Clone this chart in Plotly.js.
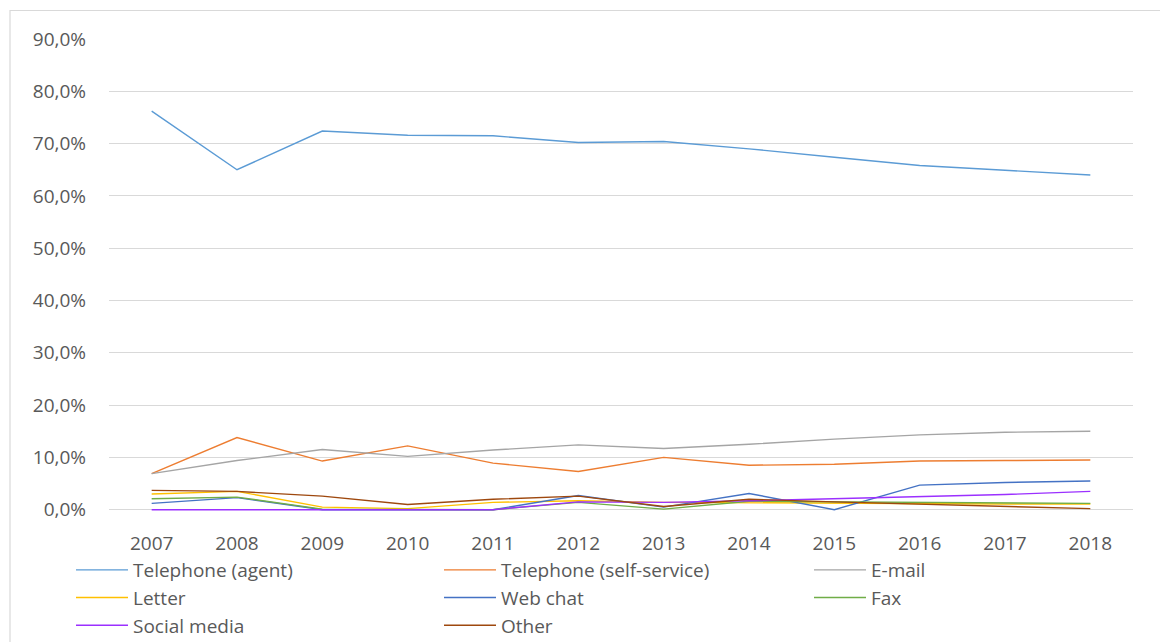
<!DOCTYPE html>
<html><head><meta charset="utf-8">
<script src="https://cdn.plot.ly/plotly-3.0.1.min.js"></script>
<style>html,body{margin:0;padding:0;background:#fff;}#chart{width:1160px;height:642px;}</style>
</head><body><div id="chart"></div>
<script>
var years = ["2007","2008","2009","2010","2011","2012","2013","2014","2015","2016","2017","2018"];
var seriesNames = ["Telephone (agent)","Telephone (self-service)","E-mail","Letter","Web chat","Fax","Social media","Other"];
var telephoneAgent = [76.2, 65.0, 72.4, 71.6, 71.5, 70.2, 70.4, 69.0, 67.4, 65.8, 64.9, 64.0];
var telephoneSelf  = [6.9, 13.8, 9.3, 12.2, 8.9, 7.3, 10.0, 8.5, 8.7, 9.3, 9.4, 9.5];
var email          = [6.9, 9.4, 11.5, 10.2, 11.4, 12.4, 11.7, 12.5, 13.5, 14.3, 14.8, 15.0];
var letter         = [3.0, 3.5, 0.5, 0.2, 1.4, 1.7, 1.4, 1.3, 1.3, 1.1, 1.1, 1.1];
var webChat        = [1.2, 2.3, 0.0, 0.0, 0.0, 2.7, 0.5, 3.1, 0.0, 4.7, 5.2, 5.5];
var fax            = [2.1, 2.4, 0.1, 0.0, 0.0, 1.4, 0.1, 1.6, 1.5, 1.4, 1.3, 1.2];
var socialMedia    = [0.0, 0.0, 0.0, 0.0, 0.0, 1.5, 1.4, 1.7, 2.1, 2.4, 2.9, 3.5];
var other          = [3.7, 3.5, 2.6, 1.0, 2.0, 2.6, 0.6, 2.0, 1.5, 1.1, 0.6, 0.2];
var yTickValues = [0, 10, 20, 30, 40, 50, 60, 70, 80, 90];
var yTickLabels = ["0,0%","10,0%","20,0%","30,0%","40,0%","50,0%","60,0%","70,0%","80,0%","90,0%"];

var values = [telephoneAgent, telephoneSelf, email, letter, webChat, fax, socialMedia, other];
var colors = ["#5B9BD5","#ED7D31","#A5A5A5","#FFC000","#4472C4","#70AD47","#9B30FF","#9E480E"];
var legendIds = ["legend","legend2","legend3"];

var traces = seriesNames.map(function(n,i){
  return {type:'scatter', mode:'lines', name:n, x:years, y:values[i],
          legend:legendIds[i % 3], legendgroup:'g'+i,
          line:{color:colors[i], width:1.4}, hoverinfo:'x+y+name'};
});

var FONT = '"Open Sans", sans-serif';
var TXT = '#595959';
function leg(px){
  return {orientation:'v', x:(px-109)/1024, xanchor:'left', y:(511-551)/472, yanchor:'top',
          itemwidth:52, tracegroupgap:2, borderwidth:0,
          font:{family:FONT, size:19, color:TXT}, bgcolor:'rgba(0,0,0,0)', traceorder:'normal'};
}
var layout = {
  width:1160, height:642,
  margin:{l:109, r:27, t:39, b:131, autoexpand:false},
  paper_bgcolor:'#ffffff', plot_bgcolor:'#ffffff',
  font:{family:FONT, size:19, color:TXT},
  showlegend:true,
  xaxis:{type:'category', range:[-0.5, 11.5], showgrid:false, zeroline:false, showline:false, ticks:'',
         ticklabelstandoff:19, tickfont:{family:FONT, size:19, color:TXT}, fixedrange:true},
  yaxis:{range:[-0.25,90], tickvals:yTickValues, ticktext:yTickLabels,
         showgrid:true, gridcolor:'#D9D9D9', gridwidth:1, zeroline:false, showline:false, ticks:'',
         ticklabelstandoff:22, tickfont:{family:FONT, size:19, color:TXT}, fixedrange:true},
  legend:leg(71), legend2:leg(439), legend3:leg(809),
  shapes:[{type:'rect', xref:'paper', yref:'paper', x0:(10-109)/1024, x1:(1180-109)/1024,
           y0:(511-660)/472, y1:(511-10.5)/472, line:{color:'#D9D9D9', width:1.2}, fillcolor:'rgba(0,0,0,0)', layer:'below'}]
};
Plotly.newPlot('chart', traces, layout, {displayModeBar:false, staticPlot:true});
</script></body></html>
